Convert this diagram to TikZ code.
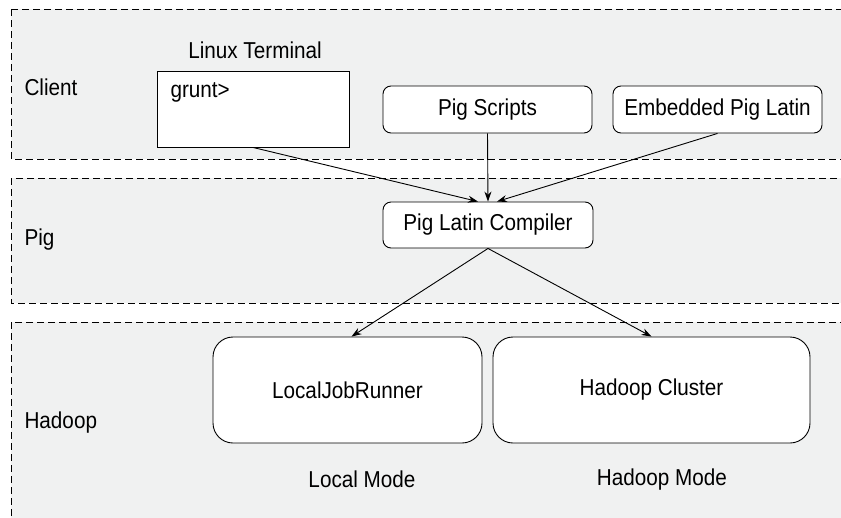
\documentclass[tikz,border=0pt]{standalone}
\usepackage{fontspec}
\setmainfont{Liberation Sans}[FakeStretch=0.9]
\usetikzlibrary{positioning, arrows.meta}

\begin{document}
\begin{tikzpicture}[x=1pt, y=-1pt,
  font=\fontsize{23}{27}\selectfont,
  band/.style={draw=black, dashed, dash pattern=on 7pt off 4pt, line width=1pt, fill=bandgray},
  smallbox/.style={draw=black, fill=white, rounded corners=8pt, line width=0.9pt, minimum width=209pt, minimum height=47pt},
  bigbox/.style={draw=black, fill=white, rounded corners=20pt, line width=0.9pt, minimum height=106pt},
  flow/.style={-{Stealth[length=10pt, width=7pt]}, line width=0.9pt}]
\definecolor{bandgray}{RGB}{240,241,241}
\useasboundingbox (0,0) rectangle (841,517);
\clip (0,0) rectangle (841,517);
\fill[white] (0,0) rectangle (841,517);
% layers
\draw[band] (11,9) rectangle (860,159);
\draw[band] (11,178) rectangle (860,303);
\draw[band] (11,322) rectangle (860,540);
\node[anchor=west] (client) at (21,87) {Client};
\node[anchor=west] (pig) at (21,240) {Pig};
\node[anchor=west] (hadoop) at (21,423) {Hadoop};
% client
\node[draw=black, fill=white, line width=0.9pt, minimum width=192pt, minimum height=76pt] (term) at (253,109) {};
\node[anchor=west] (grunt) at (167,92) {grunt>};
\node (termlabel) at (255,50) {Linux Terminal};
\node[smallbox] (scripts) at (487.5,109.5) {Pig Scripts};
\node[smallbox] (embedded) at (717.5,109.5) {Embedded Pig Latin};
% pig
\node[smallbox, minimum width=210pt, minimum height=46pt] (comp) at (488,225) {Pig Latin Compiler};
% hadoop
\node[bigbox, minimum width=269pt] (ljr) at (347.5,390) {LocalJobRunner};
\node[bigbox, minimum width=317pt] (hc) at (651.5,390) {Hadoop Cluster};
\node (localmode) at (362,479) {Local Mode};
\node (hadoopmode) at (662,480) {Hadoop Mode};
% arrows
\draw[flow] (term.south) -- ([xshift=-10pt]comp.north);
\draw[flow] (scripts.south) -- (comp.north);
\draw[flow] (embedded.south) -- ([xshift=9pt]comp.north);
\draw[flow] (comp.south) -- ([xshift=4pt]ljr.north);
\draw[flow] (comp.south) -- (hc.north);
\end{tikzpicture}
\end{document}
